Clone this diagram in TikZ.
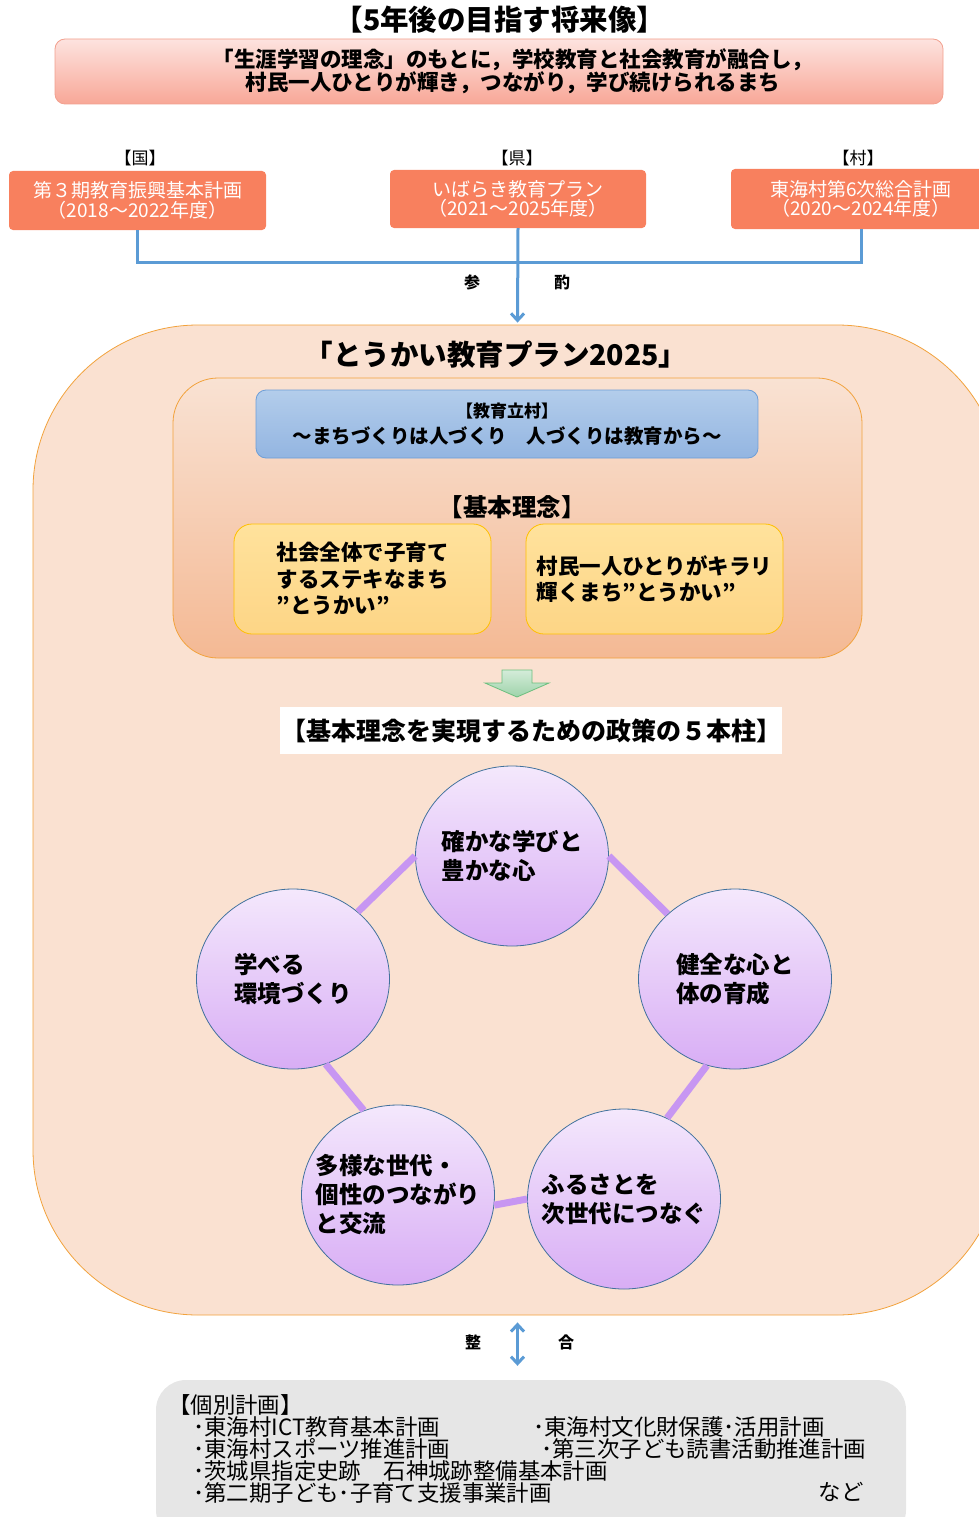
\documentclass[tikz,border=0pt]{standalone}
\usepackage{fontspec}
\setmainfont{Noto Sans CJK JP}
\usetikzlibrary{positioning,calc,shapes.geometric,arrows.meta}

\definecolor{pinktop}{HTML}{FDE3DF}
\definecolor{pinkbot}{HTML}{F8A797}
\definecolor{pinkline}{HTML}{F2A08E}
\definecolor{coral}{HTML}{F8805E}
\definecolor{linkblue}{HTML}{5B9BD5}
\definecolor{peach}{HTML}{FAE1D1}
\definecolor{orangeline}{HTML}{F2A23C}
\definecolor{innertop}{HTML}{F9E2D3}
\definecolor{innerbot}{HTML}{F4B994}
\definecolor{mottotop}{HTML}{B3CDEB}
\definecolor{mottobot}{HTML}{93B5E1}
\definecolor{mottoline}{HTML}{6E9ED7}
\definecolor{ideatop}{HTML}{FFE29C}
\definecolor{ideabot}{HTML}{FDD586}
\definecolor{idealine}{HTML}{FFC000}
\definecolor{greentop}{HTML}{D4ECD9}
\definecolor{greenbot}{HTML}{9ED3AA}
\definecolor{greenline}{HTML}{6CBF7E}
\definecolor{pillartop}{HTML}{F4E8FC}
\definecolor{pillarbot}{HTML}{D8ADF5}
\definecolor{pillarline}{HTML}{41719C}
\definecolor{ringpurple}{HTML}{C796F2}
\definecolor{greybox}{HTML}{E6E6E6}

\newcommand{\jpsize}[2]{\fontsize{#1pt}{#2pt}\selectfont}

\tikzset{
  levelbox/.style={fill=coral, rounded corners=4pt, text=white, align=center, inner sep=0pt, font=\jpsize{19}{19.5}},
  leveltag/.style={font=\jpsize{17}{17}},
  bluelink/.style={draw=linkblue, line width=3pt, >={Straight Barb[length=7pt,width=13pt]}},
  ideabox/.style={draw=idealine, line width=0.8pt, top color=ideatop, bottom color=ideabot, rounded corners=18pt, minimum width=257pt, minimum height=110pt, align=left, inner sep=0pt, font=\bfseries\jpsize{21.5}{26.5}},
  pillar/.style={ellipse, draw=pillarline, line width=0.8pt, top color=pillartop, bottom color=pillarbot, minimum width=193pt, minimum height=180pt, inner sep=0pt},
  pillartext/.style={align=left, inner sep=0pt, font=\bfseries\jpsize{23.5}{29}},
  ring/.style={draw=ringpurple, line width=7pt},
  listtext/.style={align=left, inner sep=0pt, font=\jpsize{22.4}{22}},
}

\begin{document}
\begin{tikzpicture}[x=1pt, y=-1pt]
    \useasboundingbox (0,0) rectangle (979,1517);
    \clip (0,0) rectangle (979,1517);

    % Vision
    \node[font=\bfseries\jpsize{28.5}{28.5}] (headline) at (500,20) {【5年後の目指す将来像】};
    \node[draw=pinkline, line width=0.8pt, top color=pinktop, bottom color=pinkbot, rounded corners=10pt,
          minimum width=888pt, minimum height=65pt] (vision) at (499,71.5) {};
    \node[align=center, inner sep=0pt, font=\bfseries\jpsize{21.5}{22}] (visiontext) at (513,71)
        {「生涯学習の理念」のもとに，学校教育と社会教育が融合し，\\村民一人ひとりが輝き，つながり，学び続けられるまち};

    % Upper plans
    \node[leveltag] (kunitag) at (140,158) {【国】};
    \node[leveltag] (kentag) at (517,158) {【県】};
    \node[leveltag] (muratag) at (858,158) {【村】};
    \node[levelbox, minimum width=257pt, minimum height=59pt] (kuni) at (137.5,200.5) {第３期教育振興基本計画\\（2018～2022年度）};
    \node[levelbox, minimum width=256pt, minimum height=58pt] (ken) at (518,199) {いばらき教育プラン\\（2021～2025年度）};
    \node[levelbox, minimum width=260pt, minimum height=60pt] (mura) at (861,199) {東海村第6次総合計画\\（2020～2024年度）};

    % Main plan
    \node[draw=orangeline, line width=0.8pt, fill=peach, rounded corners=165pt,
          minimum width=969pt, minimum height=990pt] (plan) at (517.5,820) {};
    \node[font=\bfseries\jpsize{28.5}{28.5}] (plantitle) at (496,355) {「とうかい教育プラン2025」};

    % Reference lines
    \coordinate (bus) at (517,262);
    \draw[bluelink] (kuni.south) |- (bus) -| (mura.south);
    \draw[bluelink, ->, shorten >=2pt] (ken.south) -- (plan.north);
    \node[font=\bfseries\jpsize{16}{16}] (san) at (472,282) {参};
    \node[font=\bfseries\jpsize{16}{16}] (shaku) at (562,282) {酌};

    % Basic idea
    \node[draw=orangeline, line width=0.8pt, top color=innertop, bottom color=innerbot, rounded corners=45pt,
          minimum width=689pt, minimum height=280pt] (rinen) at (517.5,518) {};
    \node[draw=mottoline, line width=0.8pt, top color=mottotop, bottom color=mottobot, rounded corners=10pt,
          minimum width=502pt, minimum height=68pt, align=center, inner sep=0pt,
          font=\bfseries\jpsize{19.5}{26}] (motto) at (507,424)
        {{\jpsize{17}{17}【教育立村】}\\～まちづくりは人づくり　人づくりは教育から～};
    \node[font=\bfseries\jpsize{24.5}{24.5}] (rinentitle) at (512,507) {【基本理念】};
    \node[ideabox] (ideaA) at (362.5,579) {社会全体で子育て\\するステキなまち\\"とうかい"};
    \node[ideabox] (ideaB) at (654.5,579) {村民一人ひとりがキラリ\\輝くまち"とうかい"};

    % Down arrow
    \path[draw=greenline, line width=0.8pt, top color=greentop, bottom color=greenbot]
        (502,670) -- (532,670) -- (532,683) -- (549,683) -- (517,697) -- (485,683) -- (502,683) -- cycle;

    % Five pillars
    \node[fill=white, minimum width=502pt, minimum height=47pt, inner sep=0pt,
          font=\bfseries\jpsize{25}{25}] (pillars) at (531,730.5) {【基本理念を実現するための政策の５本柱】};
    \node[pillar] (manabi) at (512,856) {};
    \node[pillar] (kenzen) at (735,979) {};
    \node[pillar] (furusato) at (624,1199) {};
    \node[pillar] (tayou) at (398,1195) {};
    \node[pillar] (kankyo) at (293,979) {};
    \draw[ring] (manabi.0) -- (kenzen.136);
    \draw[ring] (kenzen.252) -- (furusato.62);
    \draw[ring] (furusato.180) -- (tayou.-6);
    \draw[ring] (tayou.112) -- (kankyo.291);
    \draw[ring] (kankyo.46) -- (manabi.180);
    \node[pillartext] (manabitext) at (manabi) {確かな学びと\\豊かな心};
    \node[pillartext] (kenzentext) at (kenzen) {健全な心と\\体の育成};
    \node[pillartext] (furusatotext) at (furusato) {ふるさとを\\次世代につなぐ};
    \node[pillartext] (tayoutext) at (tayou) {多様な世代・\\個性のつながり\\と交流};
    \node[pillartext] (kankyotext) at (kankyo) {学べる\\環境づくり};

    % Individual plans
    \node[fill=greybox, rounded corners=30pt, minimum width=750pt, minimum height=160pt] (kobetsu) at (531,1460) {};
    \node[listtext, anchor=west] (kobetsuL) at (168,1449)
        {【個別計画】\\
         \hspace*{25pt}･東海村ICT教育基本計画\\
         \hspace*{25pt}･東海村スポーツ推進計画\\
         \hspace*{25pt}･茨城県指定史跡　石神城跡整備基本計画\\
         \hspace*{25pt}･第二期子ども･子育て支援事業計画};
    \node[listtext, anchor=west] (kobetsuR) at (533,1438)
        {･東海村文化財保護･活用計画\\
         \hspace*{8pt}･第三次子ども読書活動推進計画};
    \node[listtext] (nado) at (841,1492) {など};

    % Consistency
    \draw[bluelink, <->, shorten <=7pt, shorten >=14pt] (plan.south) -- (plan.south |- kobetsu.north);
    \node[font=\bfseries\jpsize{16}{16}] (sei) at (473,1342) {整};
    \node[font=\bfseries\jpsize{16}{16}] (gou) at (566,1342) {合};
\end{tikzpicture}
\end{document}
